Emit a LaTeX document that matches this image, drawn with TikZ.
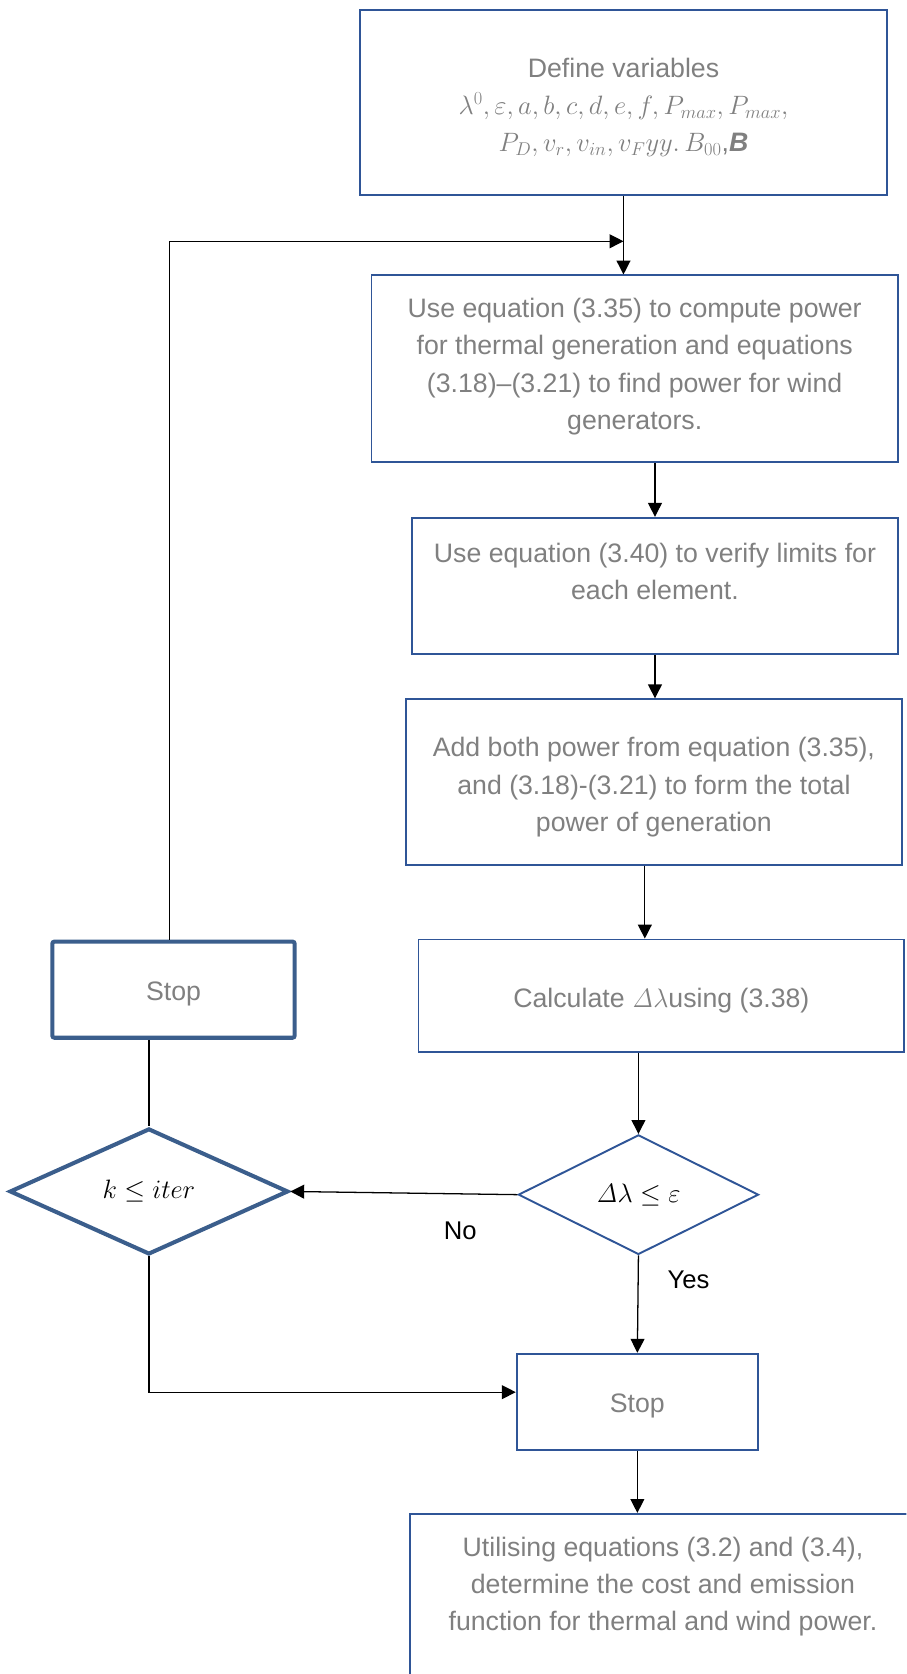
\documentclass[tikz,border=0pt]{standalone}
\usepackage[no-math]{fontspec}
\setmainfont{Liberation Sans}
\usetikzlibrary{arrows.meta,shapes.geometric}

\definecolor{boxblue}{RGB}{47,85,151}
\definecolor{thickblue}{RGB}{59,94,140}
\definecolor{txtgray}{RGB}{128,128,128}

\tikzset{
  txt/.style={font=\fontsize{25}{35}\selectfont, text=txtgray, align=center, inner sep=0pt},
  proc/.style={rectangle, draw=boxblue, line width=1.8pt, fill=white, txt},
  thickproc/.style={rectangle, draw=thickblue, line width=3.8pt, rounded corners=2pt, fill=white, txt},
  oneline/.style={text height=#1, text depth=0pt},
  decide/.style={diamond, draw=boxblue, line width=1.8pt, fill=white, inner sep=0pt,
    font=\fontsize{24}{35}\selectfont, text=black},
  thickdecide/.style={diamond, draw=thickblue, line width=3.8pt, fill=white, inner sep=0pt,
    font=\fontsize{24}{35}\selectfont, text=black},
  link/.style={draw=black, line width=1.2pt},
  flow/.style={link, -{Triangle[length=13pt,width=13pt]}},
  lbl/.style={font=\fontsize{24}{30}\selectfont, text=black, inner sep=0pt}
}

\begin{document}
\begin{tikzpicture}[x=1pt,y=-1pt]
\useasboundingbox (0,0) rectangle (849,1568);
\clip (0,0) rectangle (849,1568);
\fill[white] (0,0) rectangle (849,1568);

% process boxes of the main column, each with its text block
\node[proc, minimum width=494pt, minimum height=174pt] (def) at (584,96) {};
\node[txt] (deftext) at (584,100.5)
  {Define variables\\
   $\lambda^0, \varepsilon, a, b, c, d, e, f, P_{max}, P_{max},$\\
   $P_D, v_r, v_{in}, v_F yy.\,B_{00}$,\textbf{\textit{B}}};
\node[proc, minimum width=493pt, minimum height=175pt] (comp) at (594.5,345.5) {};
\node[txt] (comptext) at (594.5,343.5)
  {Use equation (3.35) to compute power\\
   for thermal generation and equations\\
   (3.18)--(3.21) to find power for wind\\
   generators.};
\node[proc, minimum width=455pt, minimum height=128pt] (verify) at (613.5,549) {};
\node[txt] (verifytext) at (613.5,535)
  {Use equation (3.40) to verify limits for\\each element.};
\node[proc, minimum width=465pt, minimum height=155pt] (add) at (612.5,732.5) {};
\node[txt] (addtext) at (612.5,737.5)
  {Add both power from equation (3.35),\\
   and (3.18)-(3.21) to form the total\\
   power of generation};
\node[proc, oneline=23pt, minimum width=455pt, minimum height=105pt] (calc) at (619.5,932.5)
  {Calculate $\mathit{\Delta}\lambda$using (3.38)};

% decisions
\node[decide, minimum width=225pt, minimum height=112pt] (dec) at (598,1119)
  {$\mathit{\Delta}\lambda \le \varepsilon$};
\node[thickdecide, minimum width=261pt, minimum height=118pt] (iter) at (139.5,1116)
  {$k \le iter$};

% stop boxes
\node[thickproc, oneline=20pt, minimum width=227pt, minimum height=90pt] (stopL) at (162.5,927) {Stop};
\node[proc, oneline=20pt, minimum width=226pt, minimum height=90pt] (stop) at (597,1313) {Stop};

% final box
\node[proc, minimum width=474pt, minimum height=182pt] (util) at (621,1509) {};
\node[txt] (utiltext) at (621,1486)
  {Utilising equations (3.2) and (3.4),\\
   determine the cost and emission\\
   function for thermal and wind power.};

% loop-back path coordinates
\coordinate (loopcorner) at (159,226);
\coordinate (loopend) at (584,226);
\coordinate (lowturn) at (139.5,1304);

% connectors
\draw[flow] (def.south) -- (def.south |- comp.north);
\draw[flow] (stopL.north -| loopcorner) -- (loopcorner) -- (loopend);
\draw[flow] (verify.north |- comp.south) -- (verify.north);
\draw[flow] (verify.south) -- (verify.south |- add.north);
\draw[flow] ([xshift=-8.5pt]add.south) -- ([xshift=-8.5pt]add.south |- calc.north);
\draw[flow] (dec.north |- calc.south) -- (dec.north);
\draw[flow] (dec.west) -- (iter.east);
\draw[link] (iter.north |- stopL.south) -- (iter.north);
\draw[flow] (iter.south) -- (lowturn) -- (stop.west |- lowturn);
\draw[flow] (dec.south) -- (stop.north);
\draw[flow] (stop.south) -- (stop.south |- util.north);

% branch labels
\node[lbl] (nolbl) at (431,1153) {No};
\node[lbl] (yeslbl) at (645,1199) {Yes};
\end{tikzpicture}
\end{document}
